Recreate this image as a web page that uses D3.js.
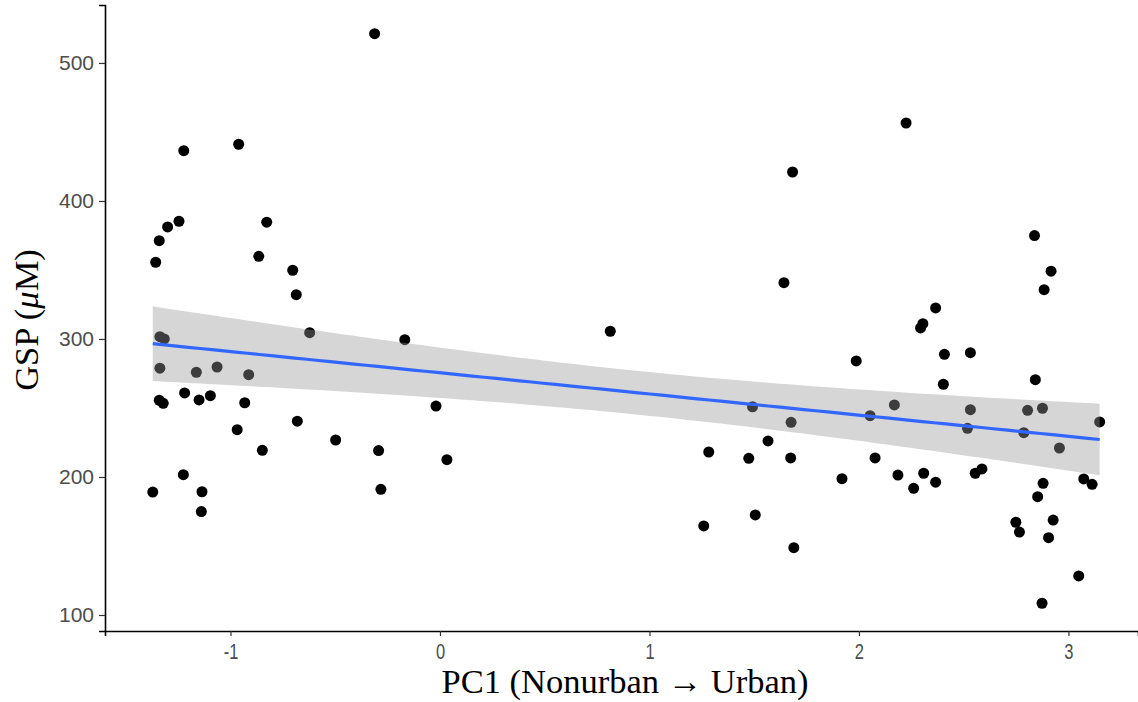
<!DOCTYPE html>
<html>
<head>
<meta charset="utf-8">
<script src="https://cdn.jsdelivr.net/npm/d3@7"></script>
<style>
  body { margin: 0; background: #fff; }
  .tick text { font-family: "Liberation Sans", Arial, sans-serif; fill: #4d4d4d; }
  .axis-title { font-family: "Liberation Serif", "Times New Roman", serif; font-size: 34.5px; fill: #000; }
</style>
</head>
<body>
<div id="chart"></div>
<script>
// PC1 scores (x) and GSP values in µM (y)
const pc1 = [
  -0.312, -1.223, -0.961, -0.827, -1.246, -1.300, -1.340, -1.357, -0.865, -0.703,
  -0.686, -1.337, -1.316, -1.337, -1.163, -1.064, -0.913, -0.622, -0.168, -1.340,
  -1.321, -1.219, -1.150, -1.096, -0.932, -0.968, -0.681, -0.848, -0.498, -0.293,
  -0.019, 0.033, -1.225, -1.371, -1.136, -1.139, -0.282,
  0.813, 2.225, 1.683, 1.642, 2.838, 2.917, 2.884, 2.366, 2.305, 2.294,
  1.987, 2.408, 2.532, 2.403, 2.842,
  1.492, 1.676, 2.053, 2.169, 2.532, 2.518, 2.805, 2.876, 2.787, 2.957,
  3.149, 1.283, 1.474, 1.566, 1.674, 1.919, 2.077, 2.186, 2.309, 2.261,
  2.366, 2.555, 2.587, 2.879, 2.853, 3.073, 3.113, 2.749, 2.766, 2.927,
  2.905, 3.049, 2.874, 1.259, 1.505, 1.689
];
const gsp = [
  521.2, 436.4, 441.1, 384.6, 385.3, 381.2, 371.2, 355.6, 359.9, 349.8,
  332.1, 301.7, 300.0, 278.8, 275.9, 279.7, 274.1, 304.6, 299.5, 255.6,
  253.4, 260.9, 255.8, 258.9, 253.8, 234.3, 240.4, 219.3, 226.8, 219.1,
  251.4, 212.5, 201.7, 189.1, 189.3, 174.9, 191.1,
  305.6, 456.5, 421.0, 340.8, 374.9, 349.1, 335.7, 322.5, 311.1, 308.0,
  284.1, 288.9, 290.1, 267.2, 270.5,
  250.9, 239.6, 244.4, 252.2, 248.8, 235.3, 248.3, 249.8, 232.1, 221.0,
  239.9, 218.1, 213.5, 226.1, 213.8, 198.8, 213.8, 201.4, 202.7, 191.8,
  196.2, 202.7, 205.8, 195.4, 185.7, 198.6, 194.7, 167.2, 160.1, 168.8,
  156.0, 128.3, 108.5, 164.5, 172.5, 148.8
];
const xTicks = [-1, 0, 1, 2, 3];
const yTicks = [100, 200, 300, 400, 500];

const data = pc1.map((v, i) => ({ x: v, y: gsp[i] }));

const W = 1138, H = 702;
const margin = { left: 105, right: 1138, top: 5, bottom: 631 };

const svg = d3.select("#chart").append("svg")
  .attr("width", W).attr("height", H);

const x = d3.scaleLinear().domain([-1.599, 3.332]).range([margin.left, margin.right]);
const y = d3.scaleLinear().domain([88.4, 542]).range([margin.bottom, margin.top]);

// linear fit + 95% confidence band (like geom_smooth(method = "lm"))
const n = data.length;
const mx = d3.mean(data, d => d.x), my = d3.mean(data, d => d.y);
const sxx = d3.sum(data, d => (d.x - mx) ** 2);
const sxy = d3.sum(data, d => (d.x - mx) * (d.y - my));
const slope = sxy / sxx, icpt = my - slope * mx;
const s = Math.sqrt(d3.sum(data, d => (d.y - icpt - slope * d.x) ** 2) / (n - 2));
const tcrit = 1.989;
const [x0, x1] = d3.extent(data, d => d.x);
const grid = d3.range(0, 81).map(i => x0 + (x1 - x0) * i / 80);
const fit = grid.map(g => {
  const yh = icpt + slope * g;
  const se = s * Math.sqrt(1 / n + (g - mx) ** 2 / sxx);
  return { x: g, y: yh, lo: yh - tcrit * se, hi: yh + tcrit * se };
});

// points
svg.append("g").selectAll("circle")
  .data(data)
  .enter().append("circle")
  .attr("cx", d => x(d.x))
  .attr("cy", d => y(d.y))
  .attr("r", 5.5)
  .style("fill", "#000");

// ribbon over the points
svg.append("path")
  .datum(fit)
  .attr("d", d3.area().x(d => x(d.x)).y0(d => y(d.lo)).y1(d => y(d.hi)))
  .style("fill", "#999999")
  .style("opacity", 0.4);

svg.append("path")
  .datum(fit)
  .attr("d", d3.line().x(d => x(d.x)).y(d => y(d.y)))
  .style("fill", "none")
  .style("stroke", "#3366FF")
  .style("stroke-width", 3.2);

// axes
const xAxis = svg.append("g")
  .attr("transform", `translate(0,${margin.bottom})`)
  .call(d3.axisBottom(x).tickValues(xTicks).tickSize(5).tickFormat(d => String(d)));
const yAxis = svg.append("g")
  .attr("transform", `translate(${margin.left},0)`)
  .call(d3.axisLeft(y).tickValues(yTicks).tickSize(6).tickPadding(5));

[xAxis, yAxis].forEach(a => {
  a.select(".domain").style("stroke", "#000").style("stroke-width", 1.6);
  a.selectAll(".tick line").style("stroke", "#333").style("stroke-width", 1.2);
});
// x labels look tall and narrow in the original
xAxis.selectAll(".tick text")
  .attr("y", 28).attr("dy", null)
  .style("font-size", "22px")
  .attr("transform", "scale(0.75,1)");
yAxis.selectAll(".tick text").style("font-size", "21px");

// titles
svg.append("text")
  .attr("class", "axis-title")
  .attr("x", 625)
  .attr("y", 693)
  .attr("text-anchor", "middle")
  .text("PC1 (Nonurban \u2192 Urban)");

const yt = svg.append("text")
  .attr("class", "axis-title")
  .attr("transform", `translate(38,320) rotate(-90)`)
  .attr("text-anchor", "middle");
yt.append("tspan").text("GSP (");
yt.append("tspan").style("font-style", "italic").text("\u03bc");
yt.append("tspan").text("M)");
</script>
</body>
</html>
